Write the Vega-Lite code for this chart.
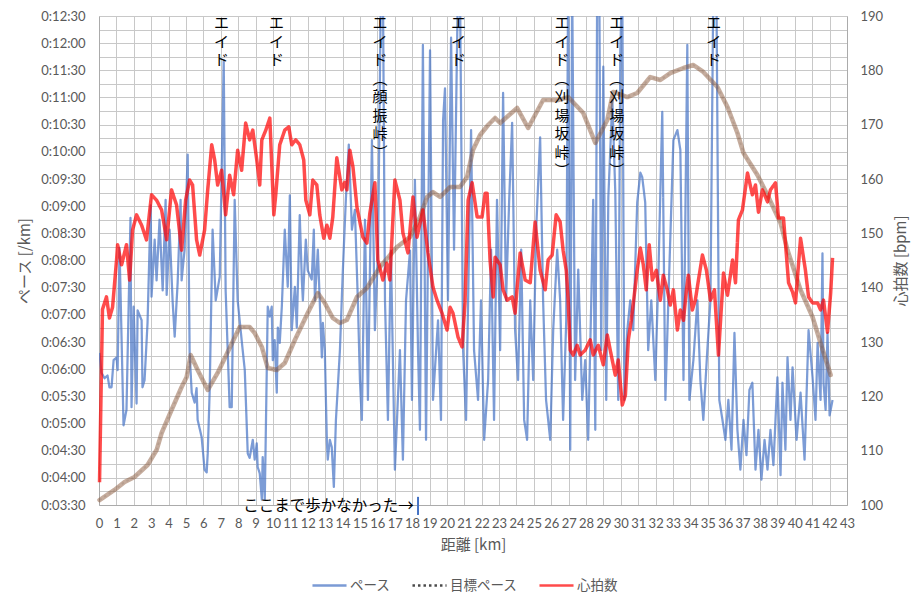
{
  "$schema": "https://vega.github.io/schema/vega-lite/v6.json",
  "autosize": "none",
  "padding": {"left": 99, "top": 16, "right": 76, "bottom": 102},
  "width": 748,
  "height": 489,
  "background": "white",
  "config": {
    "view": {"stroke": null},
    "font": "Lato",
    "axis": {
      "labelFont": "Lato",
      "labelFontSize": 13,
      "labelColor": "#595959",
      "titleFont": "Noto Sans CJK JP",
      "titleFontSize": 15,
      "titleFontWeight": "normal",
      "titleColor": "#595959",
      "gridColor": "#C8C8C8",
      "gridWidth": 1,
      "domainColor": "#ABABAB",
      "ticks": false
    }
  },
  "datasets": {
    "pace": [
      {"km":0.03,"pace":378},{"km":0.14,"pace":356},{"km":0.32,"pace":350},{"km":0.49,"pace":353},{"km":0.60,"pace":340},{"km":0.72,"pace":340},{"km":0.84,"pace":370},{"km":1.01,"pace":373},{"km":1.07,"pace":359},{"km":1.18,"pace":494},{"km":1.30,"pace":392},{"km":1.41,"pace":298},{"km":1.58,"pace":315},{"km":1.81,"pace":527},{"km":1.87,"pace":318},{"km":1.99,"pace":429},{"km":2.16,"pace":322},{"km":2.22,"pace":425},{"km":2.45,"pace":414},{"km":2.50,"pace":340},{"km":2.62,"pace":348},{"km":2.79,"pace":411},{"km":2.97,"pace":541},{"km":3.02,"pace":440},{"km":3.20,"pace":503},{"km":3.31,"pace":458},{"km":3.48,"pace":525},{"km":3.66,"pace":447},{"km":3.83,"pace":547},{"km":3.89,"pace":442},{"km":4.06,"pace":514},{"km":4.23,"pace":436},{"km":4.35,"pace":396},{"km":4.52,"pace":455},{"km":4.69,"pace":547},{"km":4.75,"pace":458},{"km":4.92,"pace":492},{"km":5.10,"pace":597},{"km":5.21,"pace":378},{"km":5.33,"pace":334},{"km":5.50,"pace":323},{"km":5.61,"pace":339},{"km":5.67,"pace":304},{"km":5.90,"pace":285},{"km":6.07,"pace":249},{"km":6.19,"pace":246},{"km":6.25,"pace":267},{"km":6.36,"pace":334},{"km":6.53,"pace":514},{"km":6.71,"pace":436},{"km":6.94,"pace":462},{"km":7.17,"pace":701},{"km":7.28,"pace":447},{"km":7.51,"pace":318},{"km":7.63,"pace":318},{"km":7.80,"pace":547},{"km":7.97,"pace":436},{"km":8.26,"pace":381},{"km":8.38,"pace":359},{"km":8.55,"pace":267},{"km":8.66,"pace":262},{"km":8.84,"pace":282},{"km":8.95,"pace":260},{"km":9.07,"pace":278},{"km":9.12,"pace":252},{"km":9.24,"pace":245},{"km":9.36,"pace":216},{"km":9.41,"pace":263},{"km":9.53,"pace":216},{"km":9.70,"pace":429},{"km":9.82,"pace":418},{"km":9.93,"pace":429},{"km":9.99,"pace":370},{"km":10.10,"pace":392},{"km":10.22,"pace":334},{"km":10.28,"pace":406},{"km":10.39,"pace":389},{"km":10.51,"pace":429},{"km":10.68,"pace":514},{"km":10.85,"pace":451},{"km":10.97,"pace":552},{"km":11.08,"pace":403},{"km":11.26,"pace":451},{"km":11.37,"pace":406},{"km":11.54,"pace":530},{"km":11.66,"pace":459},{"km":11.72,"pace":436},{"km":11.89,"pace":503},{"km":12.00,"pace":469},{"km":12.23,"pace":459},{"km":12.35,"pace":514},{"km":12.41,"pace":436},{"km":12.58,"pace":492},{"km":12.81,"pace":373},{"km":12.87,"pace":411},{"km":12.98,"pace":381},{"km":13.10,"pace":280},{"km":13.15,"pace":260},{"km":13.27,"pace":282},{"km":13.38,"pace":274},{"km":13.50,"pace":230},{"km":13.62,"pace":304},{"km":13.85,"pace":381},{"km":14.02,"pace":470},{"km":14.19,"pace":547},{"km":14.36,"pace":608},{"km":14.54,"pace":514},{"km":14.71,"pace":536},{"km":14.88,"pace":436},{"km":15.00,"pace":348},{"km":15.11,"pace":304},{"km":15.29,"pace":525},{"km":15.46,"pace":326},{"km":15.69,"pace":613},{"km":15.86,"pace":403},{"km":16.04,"pace":491},{"km":16.21,"pace":790},{"km":16.32,"pace":790},{"km":16.44,"pace":436},{"km":16.61,"pace":304},{"km":16.78,"pace":491},{"km":17.01,"pace":249},{"km":17.30,"pace":381},{"km":17.47,"pace":260},{"km":17.65,"pace":436},{"km":17.88,"pace":491},{"km":17.99,"pace":326},{"km":18.16,"pace":569},{"km":18.34,"pace":381},{"km":18.45,"pace":293},{"km":18.62,"pace":718},{"km":18.80,"pace":282},{"km":19.03,"pace":712},{"km":19.20,"pace":326},{"km":19.49,"pace":414},{"km":19.66,"pace":304},{"km":19.78,"pace":635},{"km":19.89,"pace":670},{"km":20.06,"pace":436},{"km":20.24,"pace":726},{"km":20.41,"pace":492},{"km":20.64,"pace":790},{"km":20.75,"pace":790},{"km":20.93,"pace":381},{"km":21.10,"pace":304},{"km":21.39,"pace":624},{"km":21.56,"pace":381},{"km":21.79,"pace":326},{"km":21.96,"pace":436},{"km":22.14,"pace":282},{"km":22.37,"pace":348},{"km":22.54,"pace":492},{"km":22.71,"pace":304},{"km":22.88,"pace":547},{"km":23.06,"pace":381},{"km":23.23,"pace":665},{"km":23.40,"pace":436},{"km":23.58,"pace":547},{"km":23.75,"pace":632},{"km":23.92,"pace":403},{"km":24.09,"pace":348},{"km":24.27,"pace":492},{"km":24.44,"pace":304},{"km":24.61,"pace":282},{"km":24.79,"pace":436},{"km":24.96,"pace":348},{"km":25.13,"pace":514},{"km":25.36,"pace":616},{"km":25.53,"pace":436},{"km":25.70,"pace":326},{"km":25.94,"pace":282},{"km":26.11,"pace":403},{"km":26.34,"pace":492},{"km":26.51,"pace":436},{"km":26.68,"pace":304},{"km":26.86,"pace":414},{"km":26.97,"pace":790},{"km":27.09,"pace":271},{"km":27.20,"pace":790},{"km":27.37,"pace":348},{"km":27.55,"pace":470},{"km":27.78,"pace":326},{"km":27.95,"pace":370},{"km":28.12,"pace":282},{"km":28.30,"pace":436},{"km":28.41,"pace":547},{"km":28.53,"pace":293},{"km":28.64,"pace":790},{"km":28.76,"pace":790},{"km":28.87,"pace":381},{"km":28.99,"pace":694},{"km":29.16,"pace":326},{"km":29.28,"pace":550},{"km":29.51,"pace":657},{"km":29.68,"pace":555},{"km":29.85,"pace":326},{"km":29.97,"pace":713},{"km":30.08,"pace":790},{"km":30.20,"pace":326},{"km":30.37,"pace":403},{"km":30.54,"pace":436},{"km":30.71,"pace":403},{"km":30.94,"pace":544},{"km":31.12,"pace":577},{"km":31.23,"pace":572},{"km":31.40,"pace":544},{"km":31.57,"pace":381},{"km":31.75,"pace":436},{"km":31.98,"pace":348},{"km":32.15,"pace":459},{"km":32.38,"pace":644},{"km":32.56,"pace":326},{"km":32.73,"pace":436},{"km":33.02,"pace":613},{"km":33.25,"pace":624},{"km":33.42,"pace":602},{"km":33.60,"pace":348},{"km":33.82,"pace":718},{"km":33.94,"pace":326},{"km":34.17,"pace":370},{"km":34.40,"pace":436},{"km":34.57,"pace":348},{"km":34.74,"pace":304},{"km":34.97,"pace":381},{"km":35.15,"pace":436},{"km":35.32,"pace":790},{"km":35.49,"pace":790},{"km":35.66,"pace":326},{"km":35.84,"pace":304},{"km":36.01,"pace":282},{"km":36.18,"pace":326},{"km":36.36,"pace":271},{"km":36.53,"pace":400},{"km":36.70,"pace":293},{"km":36.87,"pace":249},{"km":37.05,"pace":304},{"km":37.22,"pace":265},{"km":37.39,"pace":337},{"km":37.56,"pace":345},{"km":37.74,"pace":249},{"km":37.91,"pace":293},{"km":38.08,"pace":238},{"km":38.26,"pace":282},{"km":38.43,"pace":249},{"km":38.60,"pace":293},{"km":38.77,"pace":254},{"km":39.00,"pace":351},{"km":39.18,"pace":243},{"km":39.29,"pace":345},{"km":39.46,"pace":271},{"km":39.58,"pace":373},{"km":39.75,"pace":304},{"km":39.87,"pace":362},{"km":40.10,"pace":282},{"km":40.33,"pace":334},{"km":40.56,"pace":260},{"km":40.79,"pace":403},{"km":41.02,"pace":351},{"km":41.19,"pace":304},{"km":41.31,"pace":389},{"km":41.48,"pace":326},{"km":41.59,"pace":488},{"km":41.65,"pace":345},{"km":41.77,"pace":315},{"km":41.88,"pace":400},{"km":42.00,"pace":309},{"km":42.17,"pace":326}
    ],
    "target": [
      {"km":0.03,"pace":215.5},{"km":0.89,"pace":226.6},{"km":1.47,"pace":235.4},{"km":2.04,"pace":240.9},{"km":2.79,"pace":254.2},{"km":3.31,"pace":270.7},{"km":3.60,"pace":289.5},{"km":4.17,"pace":314.9},{"km":4.75,"pace":340.3},{"km":5.04,"pace":351.4},{"km":5.27,"pace":375.6},{"km":5.67,"pace":359.1},{"km":6.25,"pace":337.0},{"km":6.82,"pace":355.8},{"km":7.40,"pace":379.0},{"km":8.09,"pace":406.6},{"km":8.66,"pace":406.6},{"km":8.95,"pace":400.0},{"km":9.36,"pace":384.5},{"km":9.70,"pace":361.3},{"km":10.22,"pace":359.1},{"km":10.68,"pace":366.8},{"km":11.26,"pace":392.2},{"km":12.00,"pace":422.0},{"km":12.58,"pace":444.1},{"km":12.98,"pace":433.1},{"km":13.44,"pace":416.5},{"km":13.85,"pace":411.0},{"km":14.25,"pace":414.3},{"km":14.83,"pace":439.7},{"km":15.40,"pace":449.6},{"km":16.15,"pace":472.8},{"km":17.13,"pace":494.9},{"km":17.88,"pace":505.9},{"km":18.45,"pace":528.0},{"km":18.86,"pace":550.1},{"km":19.20,"pace":555.6},{"km":19.61,"pace":550.1},{"km":20.18,"pace":561.2},{"km":20.75,"pace":561.2},{"km":21.16,"pace":572.2},{"km":21.50,"pace":602.0},{"km":21.91,"pace":618.6},{"km":22.37,"pace":629.6},{"km":22.77,"pace":637.4},{"km":23.06,"pace":631.8},{"km":24.04,"pace":648.4},{"km":24.67,"pace":626.3},{"km":25.53,"pace":657.2},{"km":26.40,"pace":657.2},{"km":26.97,"pace":660.5},{"km":27.84,"pace":642.8},{"km":28.53,"pace":609.8},{"km":29.22,"pace":635.2},{"km":29.56,"pace":666.1},{"km":30.37,"pace":660.5},{"km":30.94,"pace":665.0},{"km":31.69,"pace":682.6},{"km":32.27,"pace":679.3},{"km":32.84,"pace":687.0},{"km":33.60,"pace":692.6},{"km":34.17,"pace":695.9},{"km":34.74,"pace":688.2},{"km":35.55,"pace":671.6},{"km":36.13,"pace":649.5},{"km":36.70,"pace":620.8},{"km":37.05,"pace":598.7},{"km":37.85,"pace":574.4},{"km":38.43,"pace":552.3},{"km":39.18,"pace":521.4},{"km":39.58,"pace":491.6},{"km":40.33,"pace":447.4},{"km":41.02,"pace":417.6},{"km":41.48,"pace":388.9},{"km":42.06,"pace":353.6}
    ],
    "hr": [
      {"km":0.03,"bpm":104.2},{"km":0.20,"bpm":136.0},{"km":0.43,"bpm":138.3},{"km":0.60,"bpm":134.4},{"km":0.78,"bpm":136.4},{"km":1.01,"bpm":145.1},{"km":1.07,"bpm":147.9},{"km":1.30,"bpm":144.2},{"km":1.58,"bpm":147.9},{"km":1.76,"bpm":141.4},{"km":1.93,"bpm":150.6},{"km":2.16,"bpm":153.4},{"km":2.45,"bpm":151.5},{"km":2.73,"bpm":148.8},{"km":3.02,"bpm":157.1},{"km":3.31,"bpm":156.1},{"km":3.60,"bpm":154.3},{"km":3.89,"bpm":148.8},{"km":4.17,"bpm":158.0},{"km":4.46,"bpm":155.2},{"km":4.75,"bpm":146.9},{"km":4.98,"bpm":156.1},{"km":5.21,"bpm":159.8},{"km":5.38,"bpm":158.9},{"km":5.61,"bpm":148.8},{"km":5.79,"bpm":146.0},{"km":6.07,"bpm":150.6},{"km":6.25,"bpm":158.0},{"km":6.48,"bpm":166.3},{"km":6.65,"bpm":163.5},{"km":6.82,"bpm":158.9},{"km":7.05,"bpm":161.6},{"km":7.28,"bpm":153.4},{"km":7.51,"bpm":160.7},{"km":7.74,"bpm":157.1},{"km":7.97,"bpm":165.3},{"km":8.20,"bpm":161.6},{"km":8.43,"bpm":170.3},{"km":8.66,"bpm":167.2},{"km":8.84,"bpm":169.0},{"km":9.07,"bpm":163.5},{"km":9.24,"bpm":158.9},{"km":9.36,"bpm":167.2},{"km":9.59,"bpm":169.0},{"km":9.82,"bpm":171.2},{"km":10.05,"bpm":153.4},{"km":10.16,"bpm":157.1},{"km":10.39,"bpm":166.3},{"km":10.68,"bpm":169.0},{"km":10.91,"bpm":169.6},{"km":11.08,"bpm":166.3},{"km":11.31,"bpm":167.2},{"km":11.54,"bpm":166.3},{"km":11.77,"bpm":163.5},{"km":11.89,"bpm":156.1},{"km":12.12,"bpm":153.4},{"km":12.29,"bpm":159.8},{"km":12.52,"bpm":158.9},{"km":12.69,"bpm":153.4},{"km":12.92,"bpm":149.1},{"km":13.10,"bpm":151.5},{"km":13.27,"bpm":149.1},{"km":13.44,"bpm":153.0},{"km":13.67,"bpm":163.9},{"km":13.96,"bpm":158.0},{"km":14.13,"bpm":159.4},{"km":14.25,"bpm":158.0},{"km":14.42,"bpm":165.3},{"km":14.60,"bpm":162.2},{"km":14.83,"bpm":154.8},{"km":15.17,"bpm":149.3},{"km":15.40,"bpm":148.2},{"km":15.57,"bpm":153.7},{"km":15.86,"bpm":159.3},{"km":16.03,"bpm":145.1},{"km":16.32,"bpm":141.4},{"km":16.55,"bpm":144.5},{"km":16.72,"bpm":141.4},{"km":17.01,"bpm":159.8},{"km":17.30,"bpm":156.1},{"km":17.47,"bpm":150.1},{"km":17.76,"bpm":146.4},{"km":18.05,"bpm":156.7},{"km":18.28,"bpm":149.3},{"km":18.62,"bpm":154.3},{"km":18.91,"bpm":146.4},{"km":19.20,"bpm":140.1},{"km":19.43,"bpm":137.7},{"km":19.72,"bpm":135.3},{"km":20.01,"bpm":132.2},{"km":20.18,"bpm":136.4},{"km":20.35,"bpm":135.3},{"km":20.64,"bpm":130.9},{"km":20.87,"bpm":129.1},{"km":21.04,"bpm":137.2},{"km":21.22,"bpm":156.1},{"km":21.45,"bpm":159.3},{"km":21.74,"bpm":153.0},{"km":22.02,"bpm":153.0},{"km":22.20,"bpm":157.4},{"km":22.31,"bpm":157.4},{"km":22.48,"bpm":145.1},{"km":22.66,"bpm":138.3},{"km":22.77,"bpm":145.6},{"km":23.06,"bpm":144.2},{"km":23.23,"bpm":139.6},{"km":23.46,"bpm":137.7},{"km":23.75,"bpm":138.3},{"km":23.92,"bpm":135.3},{"km":24.04,"bpm":140.1},{"km":24.21,"bpm":146.4},{"km":24.50,"bpm":141.4},{"km":24.79,"bpm":140.9},{"km":25.07,"bpm":152.1},{"km":25.36,"bpm":143.2},{"km":25.65,"bpm":139.6},{"km":25.82,"bpm":145.1},{"km":26.05,"bpm":146.0},{"km":26.28,"bpm":153.4},{"km":26.51,"bpm":152.1},{"km":26.68,"bpm":146.9},{"km":26.86,"bpm":143.2},{"km":26.97,"bpm":137.7},{"km":27.09,"bpm":128.5},{"km":27.26,"bpm":127.6},{"km":27.49,"bpm":129.4},{"km":27.66,"bpm":127.6},{"km":27.95,"bpm":128.5},{"km":28.24,"bpm":130.4},{"km":28.41,"bpm":127.6},{"km":28.70,"bpm":129.4},{"km":28.99,"bpm":125.8},{"km":29.22,"bpm":131.3},{"km":29.39,"bpm":128.5},{"km":29.68,"bpm":123.9},{"km":29.85,"bpm":126.7},{"km":30.08,"bpm":118.4},{"km":30.26,"bpm":120.2},{"km":30.43,"bpm":130.4},{"km":30.60,"bpm":134.0},{"km":30.77,"bpm":138.6},{"km":30.94,"bpm":143.2},{"km":31.12,"bpm":147.3},{"km":31.29,"bpm":144.2},{"km":31.46,"bpm":139.6},{"km":31.63,"bpm":147.9},{"km":31.81,"bpm":141.4},{"km":32.04,"bpm":143.2},{"km":32.27,"bpm":137.7},{"km":32.44,"bpm":142.3},{"km":32.67,"bpm":139.6},{"km":32.84,"bpm":136.8},{"km":33.02,"bpm":139.6},{"km":33.25,"bpm":132.2},{"km":33.42,"bpm":135.9},{"km":33.60,"bpm":134.0},{"km":33.77,"bpm":139.6},{"km":33.88,"bpm":142.3},{"km":34.11,"bpm":135.9},{"km":34.28,"bpm":137.7},{"km":34.46,"bpm":141.4},{"km":34.69,"bpm":146.0},{"km":34.92,"bpm":143.2},{"km":35.15,"bpm":137.7},{"km":35.38,"bpm":139.6},{"km":35.61,"bpm":127.6},{"km":35.90,"bpm":142.7},{"km":36.13,"bpm":138.6},{"km":36.42,"bpm":145.1},{"km":36.59,"bpm":140.9},{"km":36.76,"bpm":152.5},{"km":36.99,"bpm":154.3},{"km":37.28,"bpm":161.1},{"km":37.56,"bpm":157.1},{"km":37.74,"bpm":158.9},{"km":37.91,"bpm":153.9},{"km":38.14,"bpm":158.0},{"km":38.43,"bpm":155.8},{"km":38.60,"bpm":158.0},{"km":38.89,"bpm":159.3},{"km":39.06,"bpm":152.8},{"km":39.35,"bpm":152.8},{"km":39.64,"bpm":140.9},{"km":39.87,"bpm":139.2},{"km":40.04,"bpm":137.2},{"km":40.33,"bpm":149.1},{"km":40.61,"bpm":143.2},{"km":40.79,"bpm":138.3},{"km":41.02,"bpm":137.2},{"km":41.31,"bpm":137.2},{"km":41.48,"bpm":135.9},{"km":41.65,"bpm":137.7},{"km":41.88,"bpm":131.8},{"km":42.06,"bpm":139.0},{"km":42.17,"bpm":145.5}
    ],
    "aid": [
      {"km":7.04,"label":"エ\nイ\nド"},
      {"km":10.2,"label":"エ\nイ\nド"},
      {"km":16.15,"label":"エ\nイ\nド\n︵\n顔\n振\n峠\n︶"},
      {"km":20.66,"label":"エ\nイ\nド"},
      {"km":26.61,"label":"エ\nイ\nド\n︵\n刈\n場\n坂\n峠\n︶"},
      {"km":29.77,"label":"エ\nイ\nド\n︵\n刈\n場\n坂\n峠\n︶"},
      {"km":35.34,"label":"エ\nイ\nド"}
    ]
  },
  "encoding": {
    "x": {
      "field": "km",
      "type": "quantitative",
      "scale": {"domain": [0, 43], "nice": false, "zero": false},
      "axis": {
        "title": "距離 [km]",
        "values": [0,1,2,3,4,5,6,7,8,9,10,11,12,13,14,15,16,17,18,19,20,21,22,23,24,25,26,27,28,29,30,31,32,33,34,35,36,37,38,39,40,41,42,43],
        "grid": true,
        "labelAngle": 0,
        "labelFlush": false,
        "labelOverlap": false,
        "labelPadding": 12,
        "titlePadding": 7
      }
    }
  },
  "layer": [
    {
      "encoding": {
        "y": {
          "field": "pace",
          "type": "quantitative",
          "scale": {"domain": [210, 750], "nice": false, "zero": false},
          "axis": {
            "title": "ペース [/km]",
            "orient": "left",
            "values": [210,225,240,255,270,285,300,315,330,345,360,375,390,405,420,435,450,465,480,495,510,525,540,555,570,585,600,615,630,645,660,675,690,705,720,735,750],
            "labelExpr": "datum.value % 30 === 0 ? '0:' + (floor(datum.value / 60) < 10 ? '0' : '') + floor(datum.value / 60) + ':' + (datum.value % 60 < 10 ? '0' : '') + (datum.value % 60) : ''",
            "grid": true,
            "labelPadding": 14,
            "titlePadding": 8
          }
        }
      },
      "layer": [
        {
          "data": {"name": "pace"},
          "mark": {"type": "line", "strokeWidth": 2.25, "opacity": 0.7, "clip": true, "strokeJoin": "round"},
          "encoding": {
            "color": {
              "datum": "ペース",
              "scale": {"domain": ["ペース", "目標ペース", "心拍数"], "range": ["#4472C4", "#000000", "#FF0000"]},
              "legend": {
                "orient": "none",
                "legendX": 212,
                "legendY": 551,
                "direction": "horizontal",
                "title": null,
                "symbolType": "stroke",
                "symbolSize": 1160,
                "symbolStrokeWidth": 2.5,
                "labelFont": "Noto Sans CJK JP",
                "labelFontSize": 13.5,
                "labelColor": "#595959",
                "labelOffset": 2,
                "columnPadding": 16,
                "padding": 0,
                "encode": {
                  "symbols": {
                    "update": {
                      "opacity": {"value": 1},
                      "strokeWidth": {"signal": "datum.value === '心拍数' ? 3.5 : (datum.value === '目標ペース' ? 3 : 2.5)"}
                    }
                  }
                }
              }
            },
            "strokeDash": {
              "datum": "ペース",
              "scale": {"domain": ["ペース", "目標ペース", "心拍数"], "range": [[1, 0], [2.5, 3], [1, 0]]}
            }
          }
        },
        {
          "data": {"name": "target"},
          "mark": {"type": "line", "strokeWidth": 2, "opacity": 0.12},
          "encoding": {"color": {"datum": "目標ペース"}, "strokeDash": {"datum": "目標ペース"}}
        },
        {
          "data": {"name": "target"},
          "mark": {"type": "line", "stroke": "#8C5A3C", "strokeWidth": 4.5, "opacity": 0.5, "strokeJoin": "round", "strokeCap": "round"},
          "encoding": {}
        },
        {
          "data": {"values": [{"km": 18.34, "top": 219, "bottom": 199}]},
          "mark": {"type": "rule", "color": "#4472C4", "strokeWidth": 2},
          "encoding": {
            "y": {"field": "top", "type": "quantitative"},
            "y2": {"field": "bottom"}
          }
        }
      ]
    },
    {
      "data": {"name": "hr"},
      "mark": {"type": "line", "strokeWidth": 3.5, "opacity": 0.7, "strokeJoin": "round"},
      "encoding": {
        "y": {
          "field": "bpm",
          "type": "quantitative",
          "scale": {"domain": [100, 190], "nice": false, "zero": false},
          "axis": {
            "title": "心拍数 [bpm]",
            "orient": "right",
            "values": [100,110,120,130,140,150,160,170,180,190],
            "grid": false,
            "labelPadding": 13,
            "titlePadding": 26,
            "titleAngle": -90
          }
        },
        "color": {"datum": "心拍数"},
        "strokeDash": {"datum": "心拍数"}
      }
    },
    {
      "data": {"name": "aid"},
      "mark": {"type": "text", "font": "Noto Sans CJK JP", "fontSize": 15, "lineHeight": 18.5, "lineBreak": "\n", "baseline": "top", "align": "center", "fill": "#000000", "dy": 0},
      "encoding": {
        "y": {"datum": 750, "type": "quantitative", "scale": {"domain": [210, 750], "nice": false, "zero": false}, "axis": null},
        "text": {"field": "label", "type": "nominal"}
      }
    },
    {
      "data": {"values": [{"km": 18.1, "note": "ここまで歩かなかった→"}]},
      "mark": {"type": "text", "font": "Noto Sans CJK JP", "fontSize": 15.5, "baseline": "middle", "align": "right", "fill": "#000000", "dy": 1},
      "encoding": {
        "y": {"datum": 210, "type": "quantitative", "scale": {"domain": [210, 750], "nice": false, "zero": false}, "axis": null},
        "text": {"field": "note", "type": "nominal"}
      }
    }
  ],
  "resolve": {"scale": {"y": "independent"}, "axis": {"y": "independent"}}
}
